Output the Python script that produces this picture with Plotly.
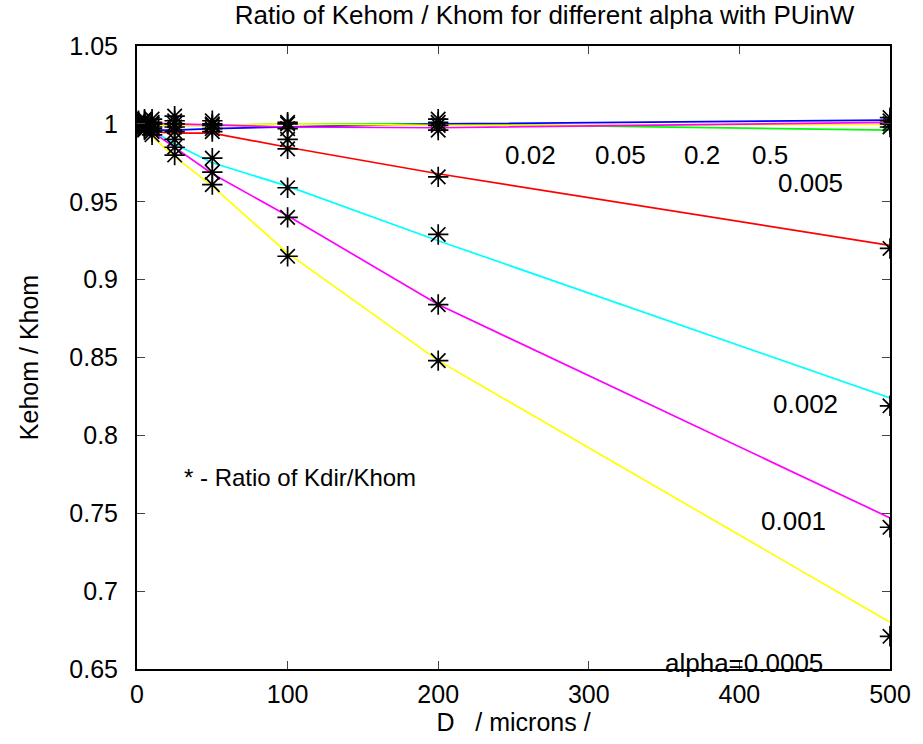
import plotly.graph_objects as go

D = [1, 5, 10, 25, 50, 100, 200, 500]
alphas = ["0.0005", "0.001", "0.002", "0.005", "0.02", "0.05", "0.2", "0.5"]
colors = ["#FFFF00", "#FF00FF", "#00FFFF", "#FF0000", "#00FF00", "#0000FF", "#FFFF00", "#FF00FF"]

# Kehom/Khom lines
line_0005 = [0.9995, 0.996, 0.992, 0.979, 0.960, 0.917, 0.848, 0.680]
line_001 = [0.9997, 0.998, 0.995, 0.985, 0.968, 0.941, 0.884, 0.747]
line_002 = [1.0, 0.998, 0.996, 0.987, 0.975, 0.960, 0.925, 0.824]
line_005 = [0.996, 0.995, 0.995, 0.994, 0.994, 0.985, 0.968, 0.922]
line_02 = [0.999, 0.999, 0.999, 0.999, 0.999, 1.0, 1.0, 0.996]
line_05 = [0.996, 0.996, 0.996, 0.996, 0.997, 0.998, 1.0, 1.0024]
line_2 = [0.999, 0.999, 0.999, 0.999, 0.999, 1.0, 0.999, 0.9996]
line_5 = [1.0006, 1.0005, 1.0003, 1.0, 0.999, 0.998, 0.9975, 1.001]
lines = [line_0005, line_001, line_002, line_005, line_02, line_05, line_2, line_5]

# Kdir/Khom stars
star_0005 = [0.999, 0.996, 0.993, 0.980, 0.961, 0.915, 0.848, 0.671]
star_001 = [1.0, 0.997, 0.995, 0.985, 0.969, 0.940, 0.884, 0.741]
star_002 = [1.0, 0.998, 0.997, 0.990, 0.978, 0.959, 0.929, 0.819]
star_005 = [1.0, 0.999, 0.998, 0.995, 0.995, 0.984, 0.966, 0.920]
star_02 = [1.0, 1.0, 1.0, 0.998, 0.997, 0.990, 0.996, 0.998]
star_05 = [1.0, 1.0, 1.0, 1.0, 0.999, 0.997, 0.999, 1.0]
star_2 = [1.001, 1.002, 1.001, 1.002, 1.0, 1.0, 1.001, 1.002]
star_5 = [1.002, 1.003, 1.003, 1.005, 1.002, 1.001, 1.003, 1.004]
stars = [star_0005, star_001, star_002, star_005, star_02, star_05, star_2, star_5]

labels = ["alpha=0.0005", "0.001", "0.002", "0.005", "0.02", "0.05", "0.2", "0.5"]
label_x = [349, 413, 421, 424, 243, 303, 362, 407]
label_y = [0.654, 0.745, 0.820, 0.962, 0.980, 0.980, 0.980, 0.980]

xticks = [0, 100, 200, 300, 400, 500]
yticks = [0.65, 0.7, 0.75, 0.8, 0.85, 0.9, 0.95, 1.0, 1.05]
yticktext = ["0.65", "0.7", "0.75", "0.8", "0.85", "0.9", "0.95", "1", "1.05"]

FONT = "Liberation Sans, Arial, sans-serif"
FS = 25

fig = go.Figure()
for vals, c in zip(lines, colors):
    fig.add_trace(go.Scatter(x=D, y=vals, mode="lines",
                             line=dict(color=c, width=1.7), showlegend=False))
for vals in stars:
    fig.add_trace(go.Scatter(x=D, y=vals, mode="markers",
                             marker=dict(symbol="asterisk-open", size=17, color="black",
                                         line=dict(color="black", width=1.7)),
                             showlegend=False))

for t, x, y in zip(labels, label_x, label_y):
    fig.add_annotation(x=x, y=y, text=t, showarrow=False, xanchor="left", yanchor="middle",
                       font=dict(family=FONT, size=26, color="black"))
fig.add_annotation(x=30, y=0.773, text="* - Ratio of Kdir/Khom", showarrow=False,
                   xanchor="left", yanchor="middle", font=dict(family=FONT, size=24, color="black"))

fig.update_layout(
    width=923, height=744,
    margin=dict(l=137, r=26, t=46, b=75),
    paper_bgcolor="white", plot_bgcolor="white",
    font=dict(family=FONT, size=FS, color="black"),
    title=dict(text="Ratio of Kehom / Khom for different alpha with PUinW",
               x=0.59, xanchor="center", y=0.98, yanchor="middle",
               font=dict(family=FONT, size=26, color="black")),
)
fig.update_xaxes(range=[0, 500], tickvals=xticks, ticks="inside", ticklen=8,
                 showline=True, linecolor="black", linewidth=2, mirror="ticks",
                 showgrid=False, zeroline=False, ticklabelstandoff=2,
                 tickfont=dict(family=FONT, size=FS),
                 title=dict(text="D\u00a0\u00a0\u00a0/ microns /", standoff=2,
                            font=dict(family=FONT, size=FS)))
fig.update_yaxes(range=[0.65, 1.05], tickvals=yticks, ticktext=yticktext, ticks="inside",
                 ticklen=8, showline=True, linecolor="black", linewidth=2, mirror="ticks",
                 showgrid=False, zeroline=False, ticklabelstandoff=12,
                 tickfont=dict(family=FONT, size=FS),
                 title=dict(text="Kehom / Khom", standoff=24, font=dict(family=FONT, size=FS)))

fig.write_html("out.html")
